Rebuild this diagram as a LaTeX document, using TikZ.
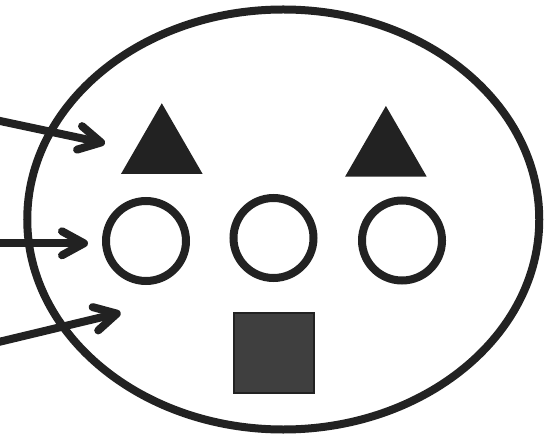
\documentclass[tikz,border=0pt]{standalone}
\usetikzlibrary{shapes.geometric,arrows.meta}
\definecolor{ink}{HTML}{222222}
\definecolor{boxfill}{HTML}{3F3F3F}
\begin{document}
\begin{tikzpicture}[x=1pt,y=-1pt,
  outline/.style={draw=ink,line width=8pt},
  tri/.style={regular polygon,regular polygon sides=3,fill=ink,draw=none,inner sep=0pt,minimum size=94.3pt},
  ring/.style={circle,outline,inner sep=0pt,minimum size=80pt},
  block/.style={rectangle,draw=ink,line width=1.5pt,fill=boxfill,inner sep=0pt,minimum size=80pt},
  pointer/.style={draw=ink,line width=8pt,line cap=round,
    -{Straight Barb[length=22pt,width=24pt,line join=round,line cap=round]}}
]
\useasboundingbox (0,0) rectangle (553,435);
\node[ellipse,outline,inner sep=0pt,minimum width=512pt,minimum height=420pt] (body) at (283.25,219.5) {};
\node[tri] (t1) at (161.8,150.4) {};
\node[tri] (t2) at (385.9,153.1) {};
\node[ring] (c1) at (146,241) {};
\node[ring] (c2) at (273.5,238) {};
\node[ring] (c3) at (402,240.5) {};
\node[block] (sq) at (273.8,352.8) {};
\coordinate (s1) at (-6,119.7);
\coordinate (e1) at (105,143.3);
\coordinate (s2) at (-6,243.3);
\coordinate (e2) at (88,243.3);
\coordinate (s3) at (-6,343.1);
\coordinate (e3) at (120.7,312.7);
\draw[pointer] (s1) -- (e1);
\draw[pointer] (s2) -- (e2);
\draw[pointer] (s3) -- (e3);
\end{tikzpicture}
\end{document}
